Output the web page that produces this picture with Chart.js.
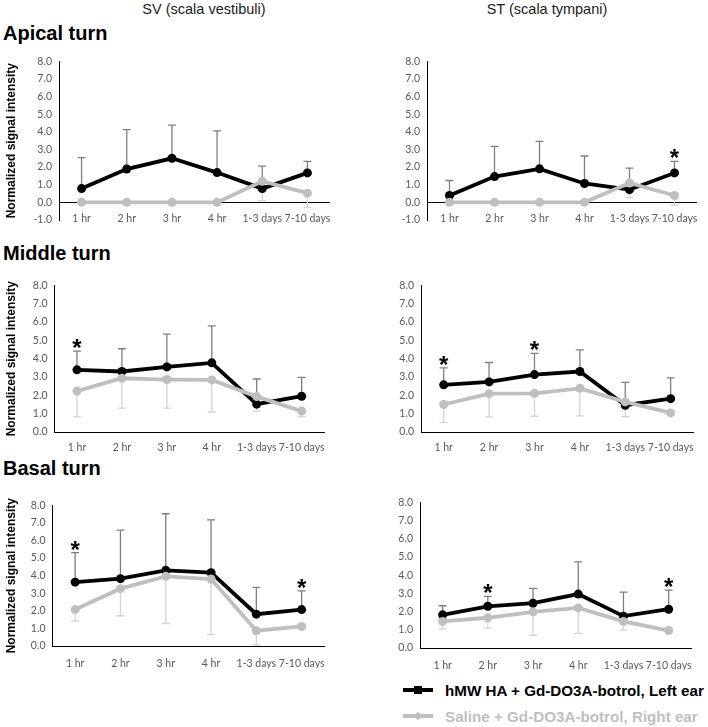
<!DOCTYPE html>
<html lang="en">
<head>
<meta charset="UTF-8">
<title>Normalized signal intensity</title>
<script src="https://cdn.jsdelivr.net/npm/chart.js"></script>
<style>
    body { margin: 0; background: #fff; width: 708px; height: 727px; position: relative; overflow: hidden; font-family: Arial, "Liberation Sans", sans-serif; }
    canvas { position: absolute; }
    .col-title { position: absolute; top: 2px; font-size: 14.5px; line-height: 15px; color: #1a1a1a; transform: translateX(-50%); white-space: nowrap; }
    .row-title { position: absolute; left: 3px; font-size: 20px; line-height: 20px; font-weight: bold; color: #000; }
    .legend-text { position: absolute; left: 445px; font-size: 15.2px; line-height: 16px; font-weight: bold; white-space: nowrap; }
    .key-line { position: absolute; left: 403px; width: 30px; height: 4px; }
    .key-mark { position: absolute; }
</style>
</head>
<body>
<div class="col-title" style="left:204px">SV (scala vestibuli)</div>
<div class="col-title" style="left:547px">ST (scala tympani)</div>
<div class="row-title" style="top:23px">Apical turn</div>
<div class="row-title" style="top:243px">Middle turn</div>
<div class="row-title" style="top:458px">Basal turn</div>

<canvas id="apicalSV"></canvas>
<canvas id="apicalST"></canvas>
<canvas id="middleSV"></canvas>
<canvas id="middleST"></canvas>
<canvas id="basalSV"></canvas>
<canvas id="basalST"></canvas>

<div class="key-line" style="top:688px; background:#000"></div>
<div class="key-mark" style="left:414px; top:686px; width:8px; height:8px; background:#000"></div>
<div class="legend-text" id="legendHA" style="top:683px; color:#000"></div>
<div class="key-line" style="top:714px; background:#bfbfbf"></div>
<div class="key-mark" style="left:415px; top:713px; width:6px; height:6px; background:#bfbfbf; transform:rotate(45deg)"></div>
<div class="legend-text" id="legendSaline" style="top:709px; color:#bfbfbf"></div>

<script>
const categories = ['1 hr', '2 hr', '3 hr', '4 hr', '1-3 days', '7-10 days'];
const seriesNames = ['hMW HA + Gd-DO3A-botrol, Left ear', 'Saline + Gd-DO3A-botrol, Right ear'];
const yTitle = 'Normalized signal intensity';

// apical turn
const apicalSV_HA = [0.78, 1.89, 2.50, 1.69, 0.78, 1.67];
const apicalSV_HA_sd = [1.76, 2.24, 1.88, 2.36, 1.27, 0.66];
const apicalSV_saline = [0, 0, 0, 0, 1.20, 0.52];
const apicalSV_saline_sd = [0, 0, 0, 0, 1.10, 0.80];
const apicalSV_stars = [];

const apicalST_HA = [0.39, 1.46, 1.90, 1.07, 0.72, 1.67];
const apicalST_HA_sd = [0.85, 1.71, 1.56, 1.56, 1.22, 0.66];
const apicalST_saline = [0, 0, 0, 0, 1.10, 0.39];
const apicalST_saline_sd = [0, 0, 0, 0, 0.83, 0.56];
const apicalST_stars = [5];

// middle turn
const middleSV_HA = [3.39, 3.30, 3.55, 3.77, 1.52, 1.95];
const middleSV_HA_sd = [1.02, 1.24, 1.79, 2.02, 1.37, 1.03];
const middleSV_saline = [2.23, 2.93, 2.86, 2.84, 1.93, 1.14];
const middleSV_saline_sd = [1.41, 1.63, 1.56, 1.75, 0.79, 0.30];
const middleSV_stars = [0];

const middleST_HA = [2.57, 2.73, 3.13, 3.30, 1.46, 1.82];
const middleST_HA_sd = [0.93, 1.06, 1.16, 1.18, 1.25, 1.13];
const middleST_saline = [1.50, 2.09, 2.11, 2.38, 1.64, 1.04];
const middleST_saline_sd = [0.98, 1.27, 1.25, 1.50, 0.80, 0.10];
const middleST_stars = [0, 2];

// basal turn
const basalSV_HA = [3.63, 3.83, 4.30, 4.17, 1.81, 2.07];
const basalSV_HA_sd = [1.68, 2.76, 3.22, 3.00, 1.52, 1.06];
const basalSV_saline = [2.07, 3.26, 3.96, 3.81, 0.87, 1.11];
const basalSV_saline_sd = [0.66, 1.54, 2.68, 3.16, 0.80, 0.10];
const basalSV_stars = [0, 5];

const basalST_HA = [1.82, 2.29, 2.46, 2.96, 1.75, 2.13];
const basalST_HA_sd = [0.50, 0.55, 0.81, 1.77, 1.32, 1.05];
const basalST_saline = [1.46, 1.66, 1.98, 2.20, 1.46, 0.96];
const basalST_saline_sd = [0.41, 0.57, 1.28, 1.40, 0.48, 0.06];
const basalST_stars = [1, 5];

document.getElementById('legendHA').textContent = seriesNames[0];
document.getElementById('legendSaline').textContent = seriesNames[1];

const tickFont = { family: 'Lato, "Liberation Sans", sans-serif', size: 10.5 };

// error bars go behind the lines, asterisks go on top
const errorBars = {
    id: 'errorBars',
    beforeDatasetsDraw(chart) {
        const ctx = chart.ctx;
        const y = chart.scales.y;
        chart.data.datasets.forEach((ds, i) => {
            const meta = chart.getDatasetMeta(i);
            ctx.save();
            ctx.strokeStyle = ds.errorColor;
            ctx.lineWidth = 1.3;
            ds.data.forEach((v, j) => {
                const sd = ds.errors[j];
                if (!sd) return;
                const x = meta.data[j].x;
                const y0 = y.getPixelForValue(v);
                const y1 = y.getPixelForValue(v + ds.errorDir * sd);
                ctx.beginPath();
                ctx.moveTo(x, y0);
                ctx.lineTo(x, y1);
                ctx.moveTo(x - 4, y1);
                ctx.lineTo(x + 4, y1);
                ctx.stroke();
            });
            ctx.restore();
        });
    },
    afterDatasetsDraw(chart) {
        const ctx = chart.ctx;
        const y = chart.scales.y;
        const ds = chart.data.datasets[0];
        const meta = chart.getDatasetMeta(0);
        ctx.save();
        ctx.fillStyle = '#000';
        ctx.font = 'bold 24px Arial';
        ctx.textAlign = 'center';
        ctx.textBaseline = 'alphabetic';
        (ds.stars || []).forEach(j => {
            const top = y.getPixelForValue(ds.data[j] + ds.errors[j]);
            ctx.fillText('*', meta.data[j].x, top + 5);
        });
        ctx.restore();
    }
};

// Excel "low" category labels: sit at the bottom of the plot, not under the 0 line
const lowLabels = {
    id: 'lowLabels',
    afterDraw(chart, args, opts) {
        if (!opts.display) return;
        const ctx = chart.ctx;
        const x = chart.scales.x;
        ctx.save();
        ctx.fillStyle = '#595959';
        ctx.font = tickFont.size + 'px ' + tickFont.family;
        ctx.textAlign = 'center';
        ctx.textBaseline = 'middle';
        chart.data.labels.forEach((lab, i) => {
            ctx.fillText(lab, x.getPixelForValue(i), chart.chartArea.bottom - 1.5);
        });
        ctx.restore();
    }
};

function makePanel(id, box, ha, haSd, saline, salineSd, stars) {
    const canvas = document.getElementById(id);
    const padTop = 10, xH = 22, padRight = 6;
    const w = box.right + padRight - box.left0;
    const h = padTop + (box.bottom - box.top) + xH;
    canvas.width = w;
    canvas.height = h;
    canvas.style.left = box.left0 + 'px';
    canvas.style.top = (box.top - padTop) + 'px';
    const yMin = box.topRow ? -1 : 0;

    new Chart(canvas, {
        type: 'line',
        data: {
            labels: categories,
            datasets: [{
                label: seriesNames[0],
                data: ha,
                errors: haSd,
                errorDir: 1,
                errorColor: '#7f7f7f',
                stars: stars,
                borderColor: '#000',
                backgroundColor: '#000',
                borderWidth: 3.8,
                pointRadius: 4.5,
                pointBorderWidth: 0,
                tension: 0,
                order: 1
            }, {
                label: seriesNames[1],
                data: saline,
                errors: salineSd,
                errorDir: -1,
                errorColor: '#d4d4d4',
                borderColor: '#bfbfbf',
                backgroundColor: '#bfbfbf',
                borderWidth: 3.8,
                pointRadius: 4.5,
                pointBorderWidth: 0,
                tension: 0,
                order: 0
            }]
        },
        options: {
            responsive: false,
            animation: false,
            layout: { padding: { top: padTop, right: padRight, left: 0, bottom: 0 } },
            plugins: {
                legend: { display: false },
                tooltip: { enabled: false },
                lowLabels: { display: !!box.topRow }
            },
            scales: {
                x: {
                    offset: true,
                    grid: { display: false, drawTicks: false },
                    border: { display: !box.topRow, color: '#000', width: 1 },
                    ticks: {
                        display: !box.topRow,
                        color: '#595959', font: tickFont, autoSkip: false,
                        maxRotation: 0, minRotation: 0,
                        padding: box.xPad || 0
                    },
                    afterFit(scale) { scale.height = xH; }
                },
                y: {
                    min: yMin,
                    max: 8,
                    grid: {
                        drawTicks: false,
                        color: c => (box.topRow && c.tick && c.tick.value === 0) ? '#000' : 'rgba(0,0,0,0)',
                        lineWidth: 1
                    },
                    border: { display: true, color: '#000', width: 1 },
                    ticks: {
                        stepSize: 1, color: '#595959', font: tickFont, padding: 7,
                        callback: v => v.toFixed(1)
                    },
                    title: {
                        display: box.showTitle,
                        text: yTitle,
                        color: '#000',
                        font: { family: 'Arial', weight: 'bold', size: 12 },
                        padding: { top: 4, bottom: 0 }
                    },
                    afterFit(scale) { scale.width = box.left - box.left0; }
                }
            }
        },
        plugins: [errorBars, lowLabels]
    });
}

makePanel('apicalSV', { left0: 0, left: 59, right: 330, top: 58, bottom: 220, topRow: true, showTitle: true },
    apicalSV_HA, apicalSV_HA_sd, apicalSV_saline, apicalSV_saline_sd, apicalSV_stars);
makePanel('apicalST', { left0: 350, left: 427, right: 697, top: 58, bottom: 220.5, topRow: true, showTitle: false },
    apicalST_HA, apicalST_HA_sd, apicalST_saline, apicalST_saline_sd, apicalST_stars);
makePanel('middleSV', { left0: 0, left: 54.5, right: 328, top: 282, bottom: 432, xPad: 9, showTitle: true },
    middleSV_HA, middleSV_HA_sd, middleSV_saline, middleSV_saline_sd, middleSV_stars);
makePanel('middleST', { left0: 350, left: 421, right: 697, top: 282, bottom: 432, xPad: 9, showTitle: false },
    middleST_HA, middleST_HA_sd, middleST_saline, middleST_saline_sd, middleST_stars);
makePanel('basalSV', { left0: 0, left: 52.5, right: 330, top: 502, bottom: 646, xPad: 11, showTitle: true },
    basalSV_HA, basalSV_HA_sd, basalSV_saline, basalSV_saline_sd, basalSV_stars);
makePanel('basalST', { left0: 350, left: 420, right: 697, top: 499, bottom: 648, xPad: 11, showTitle: false },
    basalST_HA, basalST_HA_sd, basalST_saline, basalST_saline_sd, basalST_stars);
</script>
</body>
</html>
